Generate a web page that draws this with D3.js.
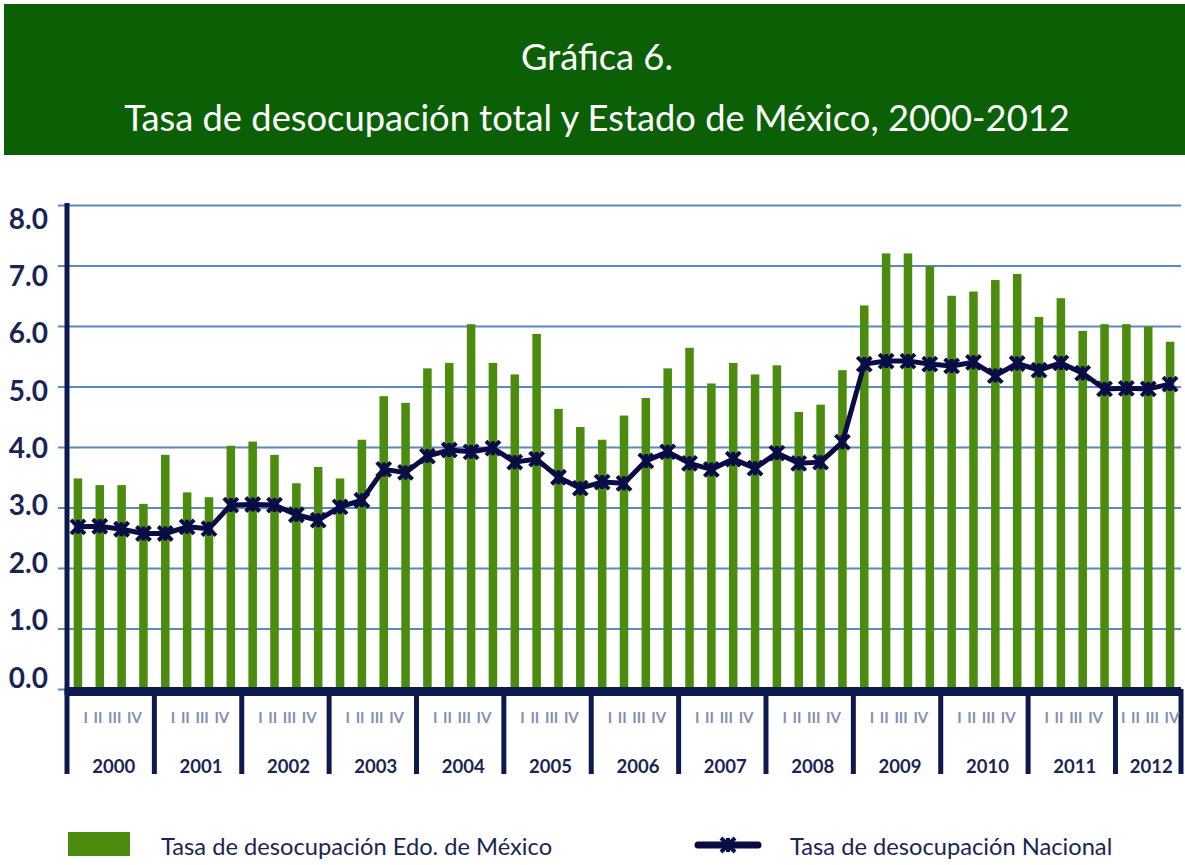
<!DOCTYPE html>
<html>
<head>
<meta charset="utf-8">
<script src="https://cdn.jsdelivr.net/npm/d3@7"></script>
<style>
  body { margin: 0; background: #fff; }
  svg { display: block; }
</style>
</head>
<body>
<svg width="1185" height="865"></svg>
<script>
// data (quarterly, 2000-I .. 2012-III)
const years = ['2000','2001','2002','2003','2004','2005','2006','2007','2008','2009','2010','2011','2012'];
const quarterNames = ['I','II','III','IV'];
const edoMex = [
  3.48, 3.37, 3.37, 3.06,   3.87, 3.25, 3.17, 4.02,   4.09, 3.87, 3.40, 3.67,
  3.48, 4.12, 4.84, 4.73,   5.30, 5.39, 6.03, 5.39,   5.20, 5.87, 4.63, 4.33,
  4.12, 4.52, 4.81, 5.30,   5.64, 5.05, 5.39, 5.20,   5.35, 4.58, 4.70, 5.27,
  6.34, 7.20, 7.20, 6.99,   6.50, 6.57, 6.76, 6.86,   6.15, 6.46, 5.92, 6.03,
  6.03, 5.99, 5.74
];
const nacional = [
  2.68, 2.69, 2.64, 2.57,   2.57, 2.68, 2.65, 3.04,   3.05, 3.04, 2.88, 2.79,
  3.01, 3.12, 3.63, 3.58,   3.85, 3.95, 3.92, 3.98,   3.75, 3.80, 3.50, 3.32,
  3.42, 3.40, 3.77, 3.92,   3.73, 3.63, 3.80, 3.65,   3.90, 3.73, 3.75, 4.08,
  5.37, 5.42, 5.42, 5.37,   5.34, 5.40, 5.18, 5.38,   5.27, 5.39, 5.22, 4.96,
  4.97, 4.96, 5.04
];
const yTicks = [0, 1, 2, 3, 4, 5, 6, 7, 8];
const titleLines = ['Gráfica 6.', 'Tasa de desocupación total y Estado de México, 2000-2012'];
const legendNames = ['Tasa de desocupación Edo. de México', 'Tasa de desocupación Nacional'];

const quarters = years.flatMap(yr => quarterNames.map(q => yr + '-' + q)).slice(0, edoMex.length);

const navy = '#0a0c45';
const axisNavy = '#0d1a4d';
const green = '#4b8c0f';
const textNavy = '#1b2554';

const svg = d3.select('svg');
const plotLeft = 67, plotRight = 1181, plotTop = 205, plotBottom = 689;

const x = d3.scaleBand().domain(quarters).range([plotLeft, plotRight])
  .paddingInner(0.61).paddingOuter(0.305);
const y = d3.scaleLinear().domain([0, 8]).range([plotBottom, plotTop]);
// the tick labels in the picture sit on a slightly tighter spacing than the gridlines
const yLab = d3.scaleLinear().domain([0, 8]).range([676, 217]);
const bw = x.bandwidth();
const half = (x.step() - bw) / 2;

// title banner
svg.append('rect')
  .attr('x', 4).attr('y', 4).attr('width', 1181).attr('height', 151)
  .attr('fill', '#0b5f04');
svg.selectAll('.title').data(titleLines).join('text')
  .attr('class', 'title')
  .attr('x', 597)
  .attr('y', (d, i) => i === 0 ? 70 : 131)
  .attr('text-anchor', 'middle')
  .attr('font-family', 'Lato, sans-serif')
  .attr('font-size', 36.3)
  .attr('fill', '#fff')
  .text(d => d);

// gridlines + y labels
const gy = svg.append('g')
  .attr('transform', `translate(${plotLeft},0)`)
  .call(d3.axisLeft(y).tickValues(yTicks).tickSize(-(plotRight - plotLeft)).tickFormat(d3.format('.1f')));
gy.select('.domain').remove();
gy.selectAll('.tick line')
  .attr('x1', -9)
  .attr('stroke', '#5a88c0')
  .attr('stroke-width', 2);
gy.selectAll('.tick text')
  .attr('x', -19)
  .attr('dy', null)
  .attr('y', d => yLab(d) - y(d))
  .attr('dominant-baseline', 'central')
  .attr('font-family', 'Lato, sans-serif')
  .attr('font-weight', 700)
  .attr('font-size', 28)
  .attr('fill', textNavy);

// bars
svg.selectAll('.bar').data(edoMex).join('rect')
  .attr('class', 'bar')
  .attr('x', (d, i) => x(quarters[i]))
  .attr('y', d => y(d))
  .attr('width', bw)
  .attr('height', d => plotBottom - y(d))
  .attr('fill', green);

// x axis: thick base, year dividers, labels
svg.append('rect')
  .attr('x', plotLeft).attr('y', plotBottom - 2)
  .attr('width', plotRight - plotLeft).attr('height', 9)
  .attr('fill', axisNavy);

const yearInfo = years.map(yr => {
  const qs = quarters.filter(q => q.startsWith(yr));
  const x0 = x(qs[0]) - half;
  const x1 = x(qs[qs.length - 1]) + bw + half;
  return { yr, x0, x1, mid: (x0 + x1) / 2 };
});
const dividers = yearInfo.map(d => d.x0).concat([plotRight]);

svg.selectAll('.divider').data(dividers).join('line')
  .attr('class', 'divider')
  .attr('x1', d => d).attr('x2', d => d)
  .attr('y1', plotBottom).attr('y2', 774)
  .attr('stroke', axisNavy)
  .attr('stroke-width', 5);

svg.append('line')
  .attr('x1', plotLeft).attr('x2', plotLeft)
  .attr('y1', 203).attr('y2', plotBottom + 6)
  .attr('stroke', axisNavy)
  .attr('stroke-width', 5);

svg.selectAll('.qlabel').data(yearInfo).join('text')
  .attr('class', 'qlabel')
  .attr('x', d => d.mid + 2)
  .attr('y', 723)
  .attr('text-anchor', 'middle')
  .attr('font-family', 'Lato, sans-serif')
  .attr('font-weight', 700)
  .attr('font-size', 15)
  .attr('word-spacing', 2)
  .attr('fill', '#8390b4')
  .text(quarterNames.join(' '));

svg.selectAll('.ylabel').data(yearInfo).join('text')
  .attr('class', 'ylabel')
  .attr('x', d => d.mid + 3)
  .attr('y', 773)
  .attr('text-anchor', 'middle')
  .attr('font-family', 'Lato, sans-serif')
  .attr('font-weight', 700)
  .attr('font-size', 18.5)
  .attr('fill', textNavy)
  .text(d => d.yr);

// national line with star markers
const starSymbol = {
  draw(ctx, size) {
    const r = Math.sqrt(size) / 2;
    ctx.moveTo(0, -r); ctx.lineTo(0, r);
    ctx.moveTo(-r, -r); ctx.lineTo(r, r);
    ctx.moveTo(-r, r); ctx.lineTo(r, -r);
  }
};
const star = d3.symbol().type(starSymbol).size(196);

const line = d3.line()
  .x((d, i) => x(quarters[i]) + bw / 2)
  .y(d => y(d));

svg.append('path')
  .datum(nacional)
  .attr('d', line)
  .attr('fill', 'none')
  .attr('stroke', navy)
  .attr('stroke-width', 5)
  .attr('stroke-linejoin', 'round');

svg.selectAll('.mark').data(nacional).join('path')
  .attr('class', 'mark')
  .attr('transform', (d, i) => `translate(${x(quarters[i]) + bw / 2},${y(d)})`)
  .attr('d', star)
  .attr('fill', 'none')
  .attr('stroke', navy)
  .attr('stroke-width', 4);

// legend
svg.append('rect')
  .attr('x', 68).attr('y', 832).attr('width', 62).attr('height', 24)
  .attr('fill', green);
svg.append('line')
  .attr('x1', 698).attr('x2', 758).attr('y1', 845).attr('y2', 845)
  .attr('stroke', navy).attr('stroke-width', 7).attr('stroke-linecap', 'round');
svg.append('path')
  .attr('transform', 'translate(728,845)')
  .attr('d', star)
  .attr('fill', 'none').attr('stroke', navy).attr('stroke-width', 4);

svg.selectAll('.legtext').data(legendNames).join('text')
  .attr('class', 'legtext')
  .attr('x', (d, i) => i === 0 ? 161 : 790)
  .attr('y', 855)
  .attr('font-family', 'Lato, sans-serif')
  .attr('font-size', 23.7)
  .attr('fill', textNavy)
  .text(d => d);
</script>
</body>
</html>
